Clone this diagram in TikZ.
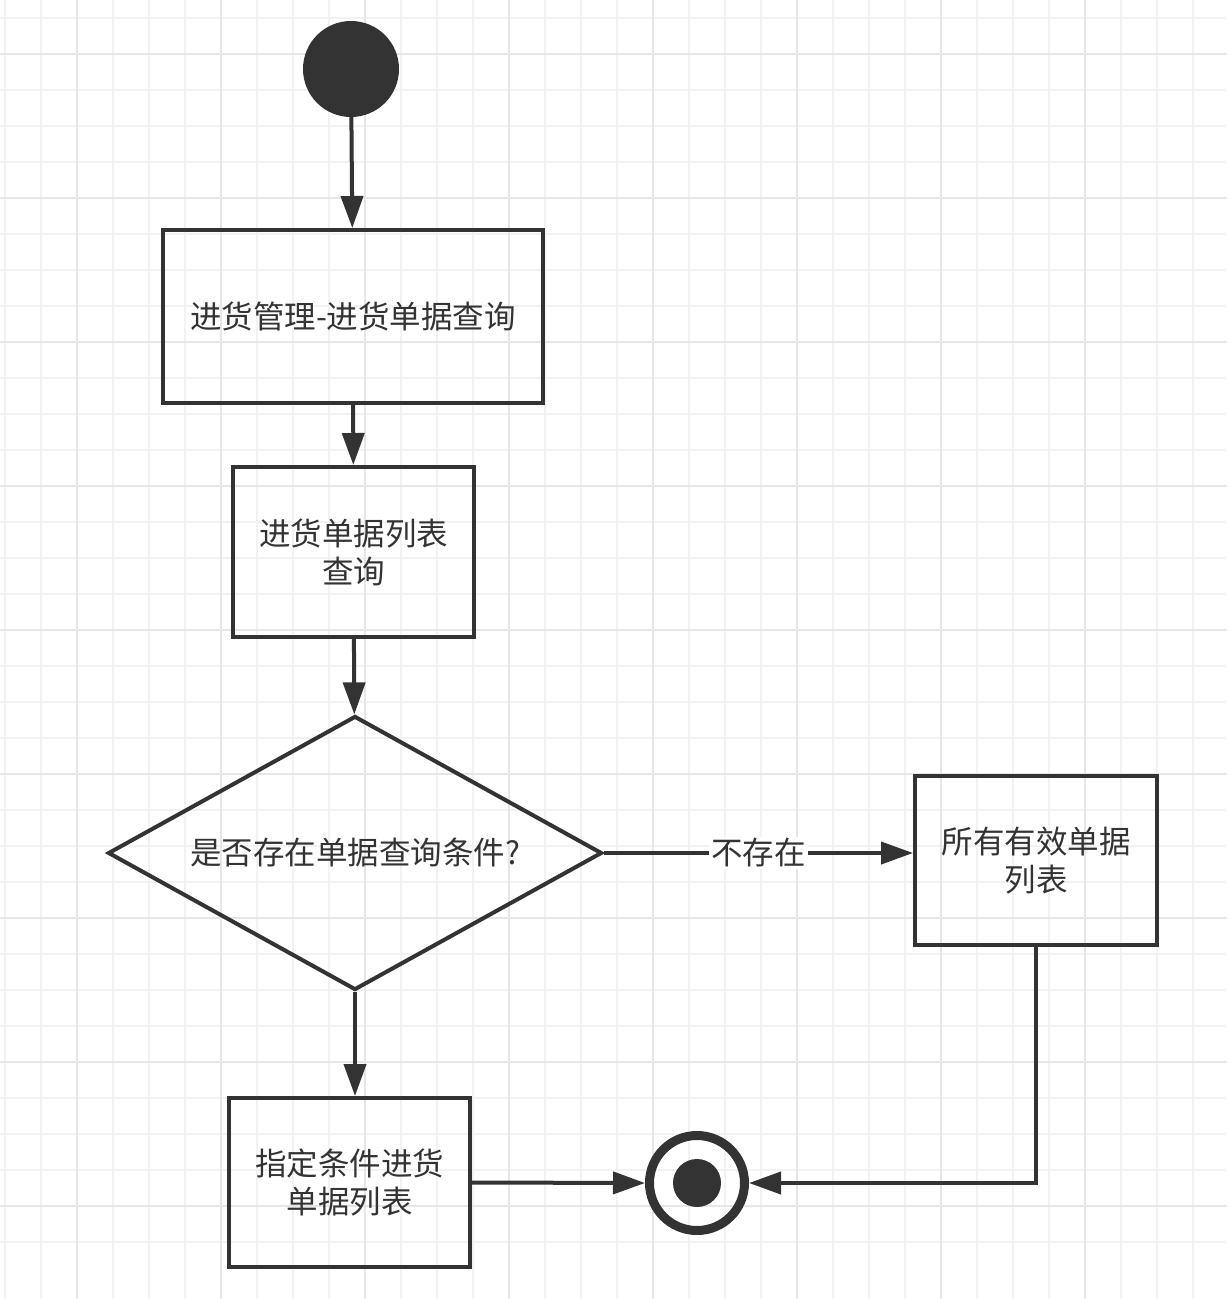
\documentclass[tikz,border=0pt]{standalone}
\usepackage{fontspec}
\setmainfont{Noto Sans CJK SC}
\usetikzlibrary{shapes.geometric,arrows.meta}
\definecolor{ink}{HTML}{333333}
\definecolor{gridminor}{HTML}{F2F2F2}
\definecolor{gridmajor}{HTML}{E6E6E6}
\begin{document}
\begin{tikzpicture}[x=1pt,y=-1pt,
  txt/.style={font=\fontsize{31.5pt}{38pt}\selectfont, text=ink, align=center},
  stepbox/.style={txt, draw=ink, line width=4pt, rectangle, inner sep=0pt},
  decbox/.style={txt, draw=ink, line width=4pt, diamond, shape aspect=1.8, inner sep=0pt},
  arr/.style={draw=ink, line width=4pt, -{Triangle[length=32pt,width=22pt]}},
  lbl/.style={txt, fill=white, inner sep=2pt}]
\useasboundingbox (0,0) rectangle (1227,1299);
\fill[white] (0,0) rectangle (1227,1299);
% grid
\foreach \i in {0,...,34} {
  \draw[gridminor, line width=1.5pt] ({5+36*\i},0) -- ({5+36*\i},1299);
  \draw[gridminor, line width=1.5pt] (0,{18+36*\i}) -- (1227,{18+36*\i});
}
\foreach \i in {0,...,8} {
  \draw[gridmajor, line width=2pt] ({77+144*\i},0) -- ({77+144*\i},1299);
  \draw[gridmajor, line width=2pt] (0,{54+144*\i}) -- (1227,{54+144*\i});
}
% nodes
\node[circle, fill=ink, minimum size=96pt, inner sep=0pt] (start) at (351,69) {};
\node[stepbox, minimum width=380pt, minimum height=173pt] (b1) at (353,316.5) {进货管理-进货单据查询};
\node[stepbox, minimum width=241pt, minimum height=170pt] (b2) at (353.5,552) {进货单据列表\\查询};
\node[decbox, minimum width=494pt, minimum height=274pt] (dec) at (355,853) {是否存在单据查询条件?};
\node[stepbox, minimum width=242pt, minimum height=169pt] (b3) at (1036,860.5) {所有有效单据\\列表};
\node[stepbox, minimum width=241pt, minimum height=169pt] (b4) at (349.5,1182.5) {指定条件进货\\单据列表};
\node[circle, draw=ink, line width=9pt, minimum size=95pt, inner sep=0pt] (end) at (697,1183) {};
\node[circle, fill=ink, minimum size=48pt, inner sep=0pt] (endin) at (end.center) {};
% connectors
\draw[arr] (start) -- (b1);
\draw[arr] (b1) -- (b2);
\draw[arr] (b2) -- (dec);
\draw[arr] (dec.south) -- (dec.south |- b4.north);
\draw[arr] (dec.east) -- node[lbl] (lab) {不存在} (dec.east -| b3.west);
\draw[arr] (b3.south) |- (end.east);
\draw[arr] (b4.east) -- (end.west);
\end{tikzpicture}
\end{document}
